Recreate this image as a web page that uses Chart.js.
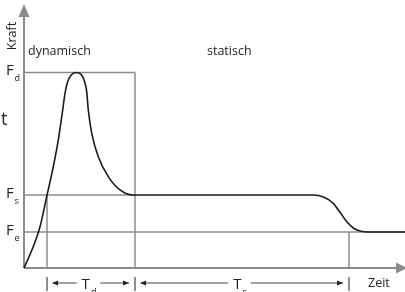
<!DOCTYPE html>
<html>
<head>
<meta charset="utf-8">
<script src="https://cdn.jsdelivr.net/npm/chart.js@4.4.1/dist/chart.umd.min.js"></script>
<style>
  html, body { margin: 0; padding: 0; background: #fff; }
  .wrap { width: 405px; height: 292px; position: relative; }
</style>
</head>
<body>
<div class="wrap"><canvas id="kraftChart"></canvas></div>
<script>
// force curve (time, force)
const curveX = [0, 9.3, 16, 22.7, 29.3, 34.3, 38.7, 41, 43.5, 47, 52.5, 57.5, 60.5, 62.7, 64.3, 67.7, 74.3, 84.3, 96, 109, 200, 289, 300, 309, 316, 323, 330, 337, 344, 381];
const curveY = [0, 11, 21.1, 36.5, 51.8, 65.5, 80.8, 89.3, 95, 98.6, 100, 98.8, 95.5, 90.2, 80.8, 69, 56.9, 46.7, 39.9, 37.3, 37.3, 37.3, 36.2, 33.2, 28.5, 23.5, 20.2, 18.8, 18.4, 18.4];

// force levels and time marks
const levelNames = ['F', 'F', 'F'];
const levelSubs = ['d', 's', 'e'];
const levels = [100, 37.3, 18.4];
const timeMarks = [23, 111, 325];
const spanNames = ['T', 'T'];
const spanSubs = ['d', 's'];
const phaseNames = ['dynamisch', 'statisch'];
const phaseStarts = [4, 183];
const axisNames = ['Zeit', 'Kraft'];

const xMax = 381, yMax = 135;
const grey = '#8c8c8c';

function seg(x1, y1, x2, y2) {
    return {
        data: [{ x: x1, y: y1 }, { x: x2, y: y2 }],
        borderColor: grey, borderWidth: 1.5, pointRadius: 0, clip: false, tension: 0
    };
}

const datasets = [{
    data: curveX.map((x, i) => ({ x: x, y: curveY[i] })),
    borderColor: '#1a1a1a', borderWidth: 1.6, pointRadius: 0,
    cubicInterpolationMode: 'monotone', clip: false
}];
// Fd box and level lines
datasets.push(seg(0, levels[0], timeMarks[1], levels[0]));
datasets.push(seg(timeMarks[1], 0, timeMarks[1], levels[0]));
datasets.push(seg(0, levels[1], timeMarks[1], levels[1]));
datasets.push(seg(0, levels[2], xMax, levels[2]));
datasets.push(seg(timeMarks[0], 0, timeMarks[0], levels[1]));
datasets.push(seg(timeMarks[2], 0, timeMarks[2], levels[2]));

const font = '"Open Sans", "DejaVu Sans", sans-serif';

function arrowHead(ctx, x, y, dir) {
    ctx.beginPath();
    ctx.moveTo(x, y);
    ctx.lineTo(x - dir * 6, y - 2.5);
    ctx.lineTo(x - dir * 6, y + 2.5);
    ctx.closePath();
    ctx.fill();
}

const decor = {
    id: 'decor',
    beforeDatasetsDraw(chart) {
        const ctx = chart.ctx;
        const xs = chart.scales.x, ys = chart.scales.y;
        const x0 = xs.getPixelForValue(0), y0 = ys.getPixelForValue(0);
        ctx.save();
        ctx.strokeStyle = grey;
        ctx.fillStyle = grey;
        ctx.lineWidth = 2;
        // y axis
        ctx.beginPath();
        ctx.moveTo(x0, y0);
        ctx.lineTo(x0, 15);
        ctx.stroke();
        ctx.beginPath();
        ctx.moveTo(x0, 4);
        ctx.lineTo(x0 - 5.5, 17);
        ctx.lineTo(x0 + 5.5, 17);
        ctx.closePath();
        ctx.fill();
        // x axis
        ctx.beginPath();
        ctx.moveTo(x0, y0);
        ctx.lineTo(396, y0);
        ctx.stroke();
        ctx.beginPath();
        ctx.moveTo(407, y0);
        ctx.lineTo(396, y0 - 5.5);
        ctx.lineTo(396, y0 + 5.5);
        ctx.closePath();
        ctx.fill();
        ctx.restore();
    },
    afterDraw(chart) {
        const ctx = chart.ctx;
        const xs = chart.scales.x, ys = chart.scales.y;
        const x0 = xs.getPixelForValue(0);
        ctx.save();
        ctx.fillStyle = '#222';
        ctx.textBaseline = 'middle';

        // axis name Kraft, rotated
        ctx.save();
        ctx.translate(x0 - 12, ys.getPixelForValue(118.6));
        ctx.rotate(-Math.PI / 2);
        ctx.textAlign = 'center';
        ctx.font = '12.5px ' + font;
        ctx.fillText(axisNames[1], 0, 0);
        ctx.restore();

        // phase labels
        ctx.font = '12.5px ' + font;
        ctx.textAlign = 'left';
        phaseNames.forEach((p, i) => {
            ctx.fillText(p, xs.getPixelForValue(phaseStarts[i]), ys.getPixelForValue(110.5));
        });

        // cut-off letter at left edge
        ctx.textBaseline = 'alphabetic';
        ctx.font = '18px ' + font;
        ctx.fillText('t', 1, 125);

        // level labels
        levels.forEach((v, i) => {
            const py = ys.getPixelForValue(v);
            ctx.font = '15px ' + font;
            ctx.fillText(levelNames[i], 6, py + 2.5);
            ctx.font = '9px ' + font;
            ctx.fillText(levelSubs[i], 14.5, py + 9);
        });

        // time marks and span arrows
        ctx.textBaseline = 'middle';
        const yb = 283;
        ctx.strokeStyle = '#444';
        ctx.fillStyle = '#222';
        ctx.lineWidth = 1.2;
        timeMarks.forEach(t => {
            const px = xs.getPixelForValue(t);
            ctx.beginPath();
            ctx.moveTo(px, 277);
            ctx.lineTo(px, 291);
            ctx.stroke();
        });
        ctx.lineWidth = 1;
        for (let i = 0; i < spanNames.length; i++) {
            const a = xs.getPixelForValue(timeMarks[i]);
            const b = xs.getPixelForValue(timeMarks[i + 1]);
            const mid = (a + b) / 2 - 2;
            ctx.font = '15px ' + font;
            const wT = ctx.measureText(spanNames[i]).width;
            ctx.font = '9px ' + font;
            const wS = ctx.measureText(spanSubs[i]).width;
            const w = wT + wS + 1;
            const tl = mid - w / 2;
            ctx.font = '15px ' + font;
            ctx.textAlign = 'left';
            ctx.fillText(spanNames[i], tl, yb + 2);
            ctx.font = '9px ' + font;
            ctx.fillText(spanSubs[i], tl + wT + 1, yb + 9);
            // left arrow
            ctx.beginPath();
            ctx.moveTo(a + 6, yb);
            ctx.lineTo(tl - 5, yb);
            ctx.stroke();
            arrowHead(ctx, a + 5, yb, -1);
            // right arrow
            ctx.beginPath();
            ctx.moveTo(tl + w + 4, yb);
            ctx.lineTo(b - 6, yb);
            ctx.stroke();
            arrowHead(ctx, b - 6, yb, 1);
        }

        // axis name Zeit
        ctx.font = '12.5px ' + font;
        ctx.textAlign = 'left';
        ctx.fillText(axisNames[0], xs.getPixelForValue(344), yb);
        ctx.restore();
    }
};

new Chart(document.getElementById('kraftChart'), {
    type: 'line',
    data: { datasets: datasets },
    options: {
        responsive: true,
        maintainAspectRatio: false,
        animation: false,
        layout: { padding: { left: 24, right: 0, top: 4, bottom: 24 } },
        plugins: { legend: { display: false }, tooltip: { enabled: false } },
        scales: {
            x: { type: 'linear', min: 0, max: xMax, display: false },
            y: { type: 'linear', min: 0, max: yMax, display: false }
        }
    },
    plugins: [decor]
});
</script>
</body>
</html>
